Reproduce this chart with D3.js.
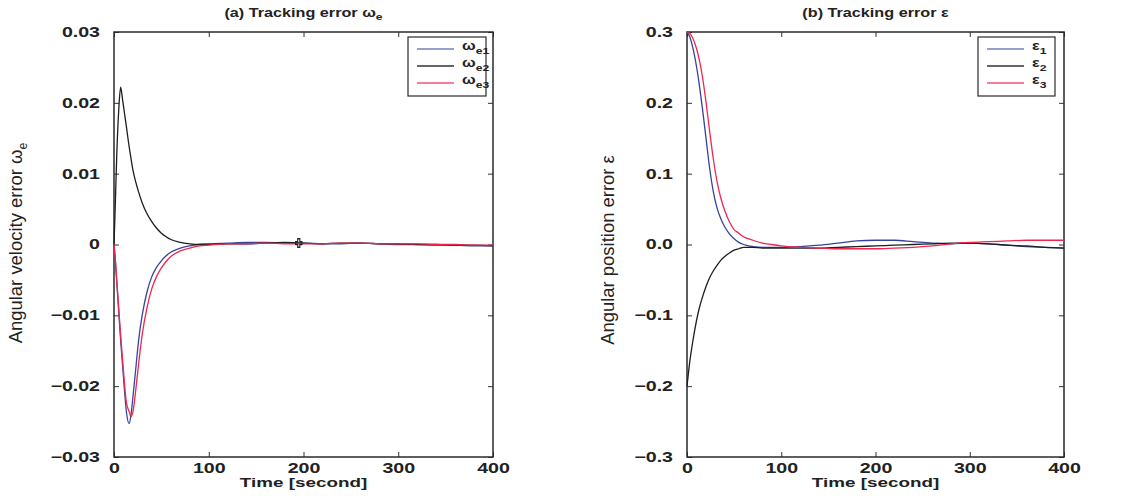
<!DOCTYPE html>
<html>
<head>
<meta charset="utf-8">
<script src="https://cdn.jsdelivr.net/npm/d3@7/dist/d3.min.js"></script>
<style>
  body { margin: 0; background: #fff; }
  svg { display: block; }
  text { font-family: "Liberation Sans", Arial, sans-serif; fill: #222; }
</style>
</head>
<body>
<div id="chart"></div>
<script>
// ---- data ----
const timeA = [0, 1, 3, 5, 7, 9, 11, 13, 16, 18, 20, 23, 26, 30, 35, 40, 45, 50, 55, 60, 70, 80, 90, 100,
  120, 140, 160, 180, 200, 220, 240, 260, 280, 300, 320, 340, 360, 380, 400]
const omegaE1 = [0, -0.0015, -0.0055, -0.0095, -0.0135, -0.0170, -0.0205, -0.0235, -0.0253, -0.0240, -0.0215,
  -0.0175, -0.0135, -0.0098, -0.0066, -0.0045, -0.0032, -0.0023, -0.0016, -0.0011, -0.0005, -0.0002, 0.0000, 0.0001,
  0.0002, 0.0003, 0.0003, 0.0002, 0.0002, 0.0001, 0.0001, 0.0002, 0.0001, 0.0000, 0.0000, -0.0001, -0.0001, -0.0002, -0.0002]
const omegaE2 = [0, 0.0040, 0.0130, 0.0190, 0.0222, 0.0205, 0.0186, 0.0167, 0.0138, 0.0121, 0.0105,
  0.0088, 0.0074, 0.0058, 0.0043, 0.0032, 0.0023, 0.0016, 0.0011, 0.0007, 0.0003, 0.0001, 0.0000, 0.0000,
  0.0001, 0.0001, 0.0002, 0.0003, 0.0002, 0.0001, 0.0002, 0.0002, 0.0001, 0.0001, 0.0000, 0.0000, -0.0001, -0.0001, -0.0002]
const omegaE3 = [0, -0.0014, -0.0052, -0.0090, -0.0128, -0.0162, -0.0195, -0.0222, -0.0236, -0.0243, -0.0236,
  -0.0205, -0.0168, -0.0125, -0.0088, -0.0062, -0.0045, -0.0033, -0.0024, -0.0017, -0.0009, -0.0005, -0.0002, -0.0001,
  0.0001, 0.0001, 0.0002, 0.0001, 0.0001, 0.0001, 0.0002, 0.0002, 0.0001, 0.0001, 0.0001, 0.0000, 0.0000, -0.0001, -0.0001]
const omegaMarks = [{ t: 195, v: 0.0002 }]

const timeB = [0, 3, 6, 10, 13, 16, 20, 24, 28, 32, 36, 40, 45, 50, 55, 60, 70, 80, 90, 100,
  120, 140, 160, 180, 200, 220, 240, 260, 280, 300, 320, 340, 360, 380, 400]
const eps1 = [0.300, 0.293, 0.279, 0.252, 0.226, 0.196, 0.152, 0.108, 0.074, 0.051, 0.036, 0.025, 0.015, 0.008, 0.003, 0.000,
  -0.003, -0.004, -0.004, -0.004, -0.003, -0.001, 0.002, 0.005, 0.006, 0.006, 0.004, 0.002, 0.001, 0.002, 0.001, -0.001, -0.003, -0.004, -0.005]
const eps2 = [-0.200, -0.165, -0.138, -0.108, -0.090, -0.076, -0.060, -0.047, -0.037, -0.029, -0.022, -0.017, -0.012, -0.008, -0.006, -0.004,
  -0.004, -0.005, -0.005, -0.005, -0.005, -0.005, -0.004, -0.003, -0.002, -0.001, 0.000, 0.001, 0.002, 0.002, 0.001, -0.001, -0.002, -0.004, -0.005]
const eps3 = [0.300, 0.298, 0.292, 0.277, 0.261, 0.240, 0.203, 0.160, 0.120, 0.088, 0.065, 0.048, 0.032, 0.021, 0.016, 0.011,
  0.006, 0.002, 0.000, -0.002, -0.004, -0.005, -0.006, -0.006, -0.006, -0.005, -0.004, -0.002, 0.001, 0.003, 0.004, 0.005, 0.006, 0.006, 0.006]

const xTicks = [0, 100, 200, 300, 400]
const yTicksA = [-0.03, -0.02, -0.01, 0, 0.01, 0.02, 0.03]
const yTickLabelsA = ['\u22120.03', '\u22120.02', '\u22120.01', '0', '0.01', '0.02', '0.03']
const yTicksB = [-0.3, -0.2, -0.1, 0, 0.1, 0.2, 0.3]
const yTickLabelsB = ['\u22120.3', '\u22120.2', '\u22120.1', '0.0', '0.1', '0.2', '0.3']

// ---- drawing ----
const SX = 1.35   // the scanned figure is stretched sideways
const COLORS = { blue: '#34449a', black: '#1e1e1e', red: '#f0264f' }
const LEG_COLORS = { blue: '#7282b8', black: '#333', red: '#f2557a' }

const svg = d3.select('#chart').append('svg')
  .attr('width', 1128).attr('height', 496)

const drawPanel = (cfg) => {
  const x = d3.scaleLinear().domain([0, 400]).range([cfg.left, cfg.right])
  const y = d3.scaleLinear().domain(cfg.yDomain).range([cfg.bottom, cfg.top])
  const g = svg.append('g')

  // title
  const title = g.append('text')
    .attr('transform', `translate(${(cfg.left + cfg.right) / 2},17) scale(${SX},1)`)
    .attr('text-anchor', 'middle').style('font-size', '12px').style('font-weight', 'bold')
  title.append('tspan').text(cfg.title[0])
  if (cfg.title[1]) title.append('tspan').attr('dy', 3).style('font-size', '9px').text(cfg.title[1])

  // y label (rotated, tall glyphs)
  const yl = g.append('text')
    .attr('transform', `translate(${cfg.yLabelX},${cfg.yLabelY}) scale(1.2,1.23) rotate(-90)`)
    .attr('text-anchor', 'middle').style('font-size', '15px')
  yl.append('tspan').text(cfg.yLabel[0])
  if (cfg.yLabel[1]) yl.append('tspan').attr('dy', 4).style('font-size', '10px').text(cfg.yLabel[1])

  // axes with inward ticks
  const fmtY = d => cfg.yTickLabels[cfg.yTicks.indexOf(d)]
  const bottomAx = g.append('g').attr('transform', `translate(0,${cfg.bottom})`)
    .call(d3.axisBottom(x).tickValues(xTicks).tickSize(-5).tickPadding(5))
  const topAx = g.append('g').attr('transform', `translate(0,${cfg.top})`)
    .call(d3.axisTop(x).tickValues(xTicks).tickSize(-5).tickFormat(''))
  const leftAx = g.append('g').attr('transform', `translate(${cfg.left},0)`)
    .call(d3.axisLeft(y).tickValues(cfg.yTicks).tickSize(-5).tickPadding(9).tickFormat(fmtY))
  const rightAx = g.append('g').attr('transform', `translate(${cfg.right},0)`)
    .call(d3.axisRight(y).tickValues(cfg.yTicks).tickSize(-5).tickFormat(''))

  ;[bottomAx, topAx, leftAx, rightAx].forEach(a => {
    a.select('.domain').remove()
    a.selectAll('.tick line').attr('stroke', '#333').attr('stroke-width', 1)
  })
  bottomAx.selectAll('.tick text')
    .attr('transform', `scale(1.4,1)`).attr('dy', '0.8em')
    .style('font-size', '14px').style('font-weight', 'bold').attr('fill', '#222')
  leftAx.selectAll('.tick text')
    .attr('transform', `scale(1.4,1)`).attr('x', -10)
    .style('font-size', '14px').style('font-weight', 'bold').attr('fill', '#222')

  // x label
  g.append('text')
    .attr('transform', `translate(${(cfg.left + cfg.right) / 2},487) scale(1.45,1)`)
    .attr('text-anchor', 'middle').style('font-size', '13px').style('font-weight', 'bold')
    .text('Time [second]')

  // frame
  g.append('rect')
    .attr('x', cfg.left).attr('y', cfg.top)
    .attr('width', cfg.right - cfg.left).attr('height', cfg.bottom - cfg.top)
    .attr('fill', 'none').attr('stroke', '#2a2a2a').attr('stroke-width', 1.5)

  // lines
  const line = d3.line().x(d => x(d[0])).y(d => y(d[1])).curve(d3.curveMonotoneX)
  cfg.series.forEach(s => {
    g.append('path')
      .datum(cfg.time.map((t, i) => [t, s.values[i]]))
      .attr('d', line)
      .attr('fill', 'none').attr('stroke', COLORS[s.color]).attr('stroke-width', 1.3)
  })

  // odd "+" mark(s)
  ;(cfg.marks || []).forEach(m => {
    g.append('path')
      .attr('d', d3.symbol(d3.symbolCross, 28)())
      .attr('transform', `translate(${x(m.t)},${y(m.v)}) scale(0.9,1.2)`)
      .attr('fill', 'none').attr('stroke', '#222').attr('stroke-width', 1.2)
  })

  // legend
  const L = cfg.legend
  const lg = g.append('g')
  lg.append('rect').attr('x', L.x0).attr('y', 37).attr('width', L.x1 - L.x0).attr('height', 59)
    .attr('fill', '#fff').attr('stroke', '#2a2a2a').attr('stroke-width', 1.2)
  cfg.series.forEach((s, i) => {
    const yy = 49 + i * 17
    lg.append('line').attr('x1', L.x0 + 9).attr('x2', L.x0 + 46).attr('y1', yy).attr('y2', yy)
      .attr('stroke', LEG_COLORS[s.color]).attr('stroke-width', 1.3)
    const t = lg.append('text')
      .attr('transform', `translate(${L.x0 + 54},${yy + 1}) scale(${SX},1)`)
      .style('font-size', '12px').style('font-weight', 'bold')
    t.append('tspan').text(s.label[0])
    t.append('tspan').attr('dy', 4).style('font-size', '9px').text(s.label[1])
  })
}

drawPanel({
  left: 114, right: 493, top: 32, bottom: 457,
  yDomain: [-0.03, 0.03], yTicks: yTicksA, yTickLabels: yTickLabelsA,
  title: ['(a)  Tracking error \u03c9', 'e'],
  yLabel: ['Angular velocity error  \u03c9', 'e'], yLabelX: 22, yLabelY: 243,
  time: timeA,
  series: [
    { values: omegaE1, color: 'blue', label: ['\u03c9', 'e1'] },
    { values: omegaE2, color: 'black', label: ['\u03c9', 'e2'] },
    { values: omegaE3, color: 'red', label: ['\u03c9', 'e3'] }
  ],
  marks: omegaMarks,
  legend: { x0: 408, x1: 486 }
})

drawPanel({
  left: 687, right: 1064, top: 32, bottom: 457,
  yDomain: [-0.3, 0.3], yTicks: yTicksB, yTickLabels: yTickLabelsB,
  title: ['(b)  Tracking error \u03b5'],
  yLabel: ['Angular position error  \u03b5'], yLabelX: 614, yLabelY: 250,
  time: timeB,
  series: [
    { values: eps1, color: 'blue', label: ['\u03b5', '1'] },
    { values: eps2, color: 'black', label: ['\u03b5', '2'] },
    { values: eps3, color: 'red', label: ['\u03b5', '3'] }
  ],
  legend: { x0: 978, x1: 1055 }
})
</script>
</body>
</html>
